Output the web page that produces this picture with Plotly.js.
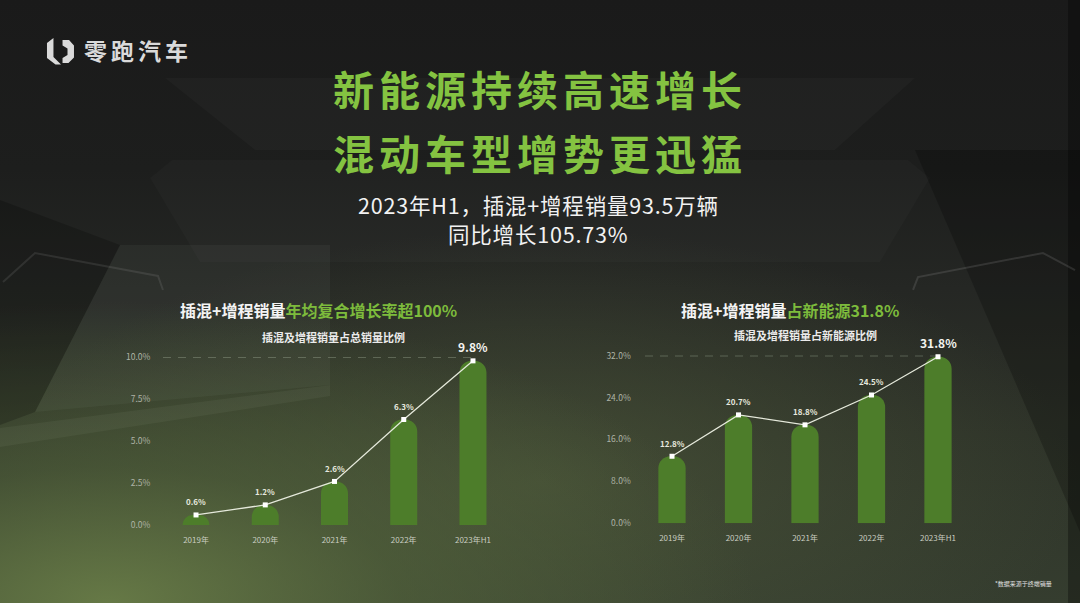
<!DOCTYPE html>
<html>
<head>
<meta charset="utf-8">
<script src="https://cdn.plot.ly/plotly-3.0.1.min.js"></script>
<style>
html,body{margin:0;padding:0;width:1080px;height:603px;overflow:hidden;background:#1c1d1c;}
#chart{
  width:1080px;height:603px;
  background:
    radial-gradient(ellipse 60% 50% at 10% 100%, rgba(106,126,72,0.92) 0%, rgba(84,102,60,0.58) 45%, rgba(60,70,45,0) 100%),
    radial-gradient(ellipse 50% 42% at 50% 80%, rgba(84,96,62,0.55) 0%, rgba(0,0,0,0) 100%),
    linear-gradient(180deg, #1a1a1a 0%, #1d1e1d 28%, #252724 48%, #2e3329 72%, #353d2f 100%);
}
</style>
</head>
<body>
<div id="chart"></div>
<script>
// ---- data ----
const categories = ['2019年', '2020年', '2021年', '2022年', '2023年H1'];
const shareOfTotal = [0.6, 1.2, 2.6, 6.3, 9.8];          // 插混及增程销量占总销量比例 (%)
const shareOfNEV = [12.8, 20.7, 18.8, 24.5, 31.8];       // 插混及增程销量占新能源比例 (%)
const leftTicks = [0, 2.5, 5, 7.5, 10];
const rightTicks = [0, 8, 16, 24, 32];

// ---- helpers (pixel -> paper) ----
const W = 1080, H = 603;
const px = x => x / W;
const py = y => 1 - y / H;
const poly = pts => 'M' + pts.map(p => px(p[0]).toFixed(4) + ',' + py(p[1]).toFixed(4)).join(' L') + ' Z';
const pline = pts => 'M' + pts.map(p => px(p[0]).toFixed(4) + ',' + py(p[1]).toFixed(4)).join(' L');

const FONT = 'Noto Sans CJK SC, Noto Sans, sans-serif';
const BAR = '#4d7d2a';
const LINE = '#e4e8da';
const GREEN = '#84c341';
const GREEN2 = '#7dbb3c';

const fmt = v => v.toFixed(1) + '%';

const traces = [
  {type: 'bar', x: categories, y: shareOfTotal, xaxis: 'x', yaxis: 'y', width: 0.39,
   marker: {color: BAR, cornerradius: '45%', line: {width: 0}}, hoverinfo: 'skip'},
  {type: 'scatter', mode: 'lines+markers', x: categories, y: shareOfTotal, xaxis: 'x', yaxis: 'y',
   line: {color: LINE, width: 1.3}, marker: {symbol: 'square', size: 5, color: '#ffffff'}, cliponaxis: false, hoverinfo: 'skip'},
  {type: 'bar', x: categories, y: shareOfNEV, xaxis: 'x2', yaxis: 'y2', width: 0.41,
   marker: {color: BAR, cornerradius: '45%', line: {width: 0}}, hoverinfo: 'skip'},
  {type: 'scatter', mode: 'lines+markers', x: categories, y: shareOfNEV, xaxis: 'x2', yaxis: 'y2',
   line: {color: LINE, width: 1.3}, marker: {symbol: 'square', size: 5, color: '#ffffff'}, cliponaxis: false, hoverinfo: 'skip'}
];

const axisX = (domain) => ({
  domain: domain, type: 'category', range: [-0.5, 4.5], showgrid: false, zeroline: false, showline: false,
  ticks: '', ticklabelstandoff: 9, tickfont: {family: FONT, size: 8, color: '#c9cdc1'}, fixedrange: true
});
const axisY = (domain, range, ticks, standoff) => ({
  domain: domain, range: range, tickmode: 'array', tickvals: ticks, ticktext: ticks.map(fmt),
  showgrid: false, zeroline: false, showline: false, ticks: '', ticklabelstandoff: standoff,
  tickfont: {family: FONT, size: 8.5, color: '#aeb3a6'}, fixedrange: true
});

const ann = [];
// value labels
function valueLabels(vals, xref, yref) {
  vals.forEach((v, i) => {
    const last = i === vals.length - 1;
    ann.push({x: categories[i], y: v, xref: xref, yref: yref, text: fmt(v), showarrow: false,
      yshift: last ? 14 : 13, font: {family: FONT, size: last ? 12 : 8, color: last ? '#f4f4f0' : '#e6e8df', weight: 700}});
  });
}
valueLabels(shareOfTotal, 'x', 'y');
valueLabels(shareOfNEV, 'x2', 'y2');

function txt(x, y, text, size, color, weight, xanchor, extra) {
  ann.push(Object.assign({x: px(x), y: py(y), xref: 'paper', yref: 'paper', text: text, showarrow: false,
    xanchor: xanchor || 'center', yanchor: 'middle', font: {family: FONT, size: size, color: color, weight: weight}}, extra || {}));
}
// titles
txt(540, 88, '<span style="letter-spacing:5px">新能源持续高速增长</span>', 41, GREEN, 700);
txt(540, 152, '<span style="letter-spacing:5px">混动车型增势更迅猛</span>', 41, GREEN, 700);
txt(538, 204, '<span style="letter-spacing:0.8px">2023年H1，插混+增程销量93.5万辆</span>', 21.5, '#f2f2f2', 400);
txt(538, 233, '<span style="letter-spacing:0.8px">同比增长105.73%</span>', 21.5, '#f2f2f2', 400);
// chart titles
txt(318, 310, '插混+增程销量<span style="color:' + GREEN2 + '">年均复合增长率超100%</span>', 16, '#f4f4f4', 700);
txt(333, 337, '插混及增程销量占总销量比例', 11, '#ebebeb', 700);
txt(790, 310, '插混+增程销量<span style="color:' + GREEN2 + '">占新能源31.8%</span>', 16, '#f4f4f4', 700);
txt(805, 335, '插混及增程销量占新能源比例', 11, '#ebebeb', 700);
// logo & footnote
txt(82, 50, '<span style="letter-spacing:4px">零跑汽车</span>', 23, '#dadada', 700, 'left');
txt(1054, 583, '*数据来源于终端销量', 6, '#e0e0e0', 400, 'right');

const shapes = [
  // tunnel background panels
  {type: 'path', path: poly([[165,78],[915,78],[835,150],[255,150]]), xref: 'paper', yref: 'paper', fillcolor: 'rgba(255,255,255,0.025)', line: {width: 0}, layer: 'below'},
  {type: 'path', path: poly([[150,178],[172,160],[908,160],[930,178],[880,262],[200,262]]), xref: 'paper', yref: 'paper', fillcolor: 'rgba(255,255,255,0.02)', line: {width: 0}, layer: 'below'},
  {type: 'path', path: poly([[0,200],[120,245],[35,412],[0,425]]), xref: 'paper', yref: 'paper', fillcolor: 'rgba(0,0,0,0.2)', line: {width: 0}, layer: 'below'},
  {type: 'path', path: poly([[120,245],[330,245],[330,385],[35,412]]), xref: 'paper', yref: 'paper', fillcolor: 'rgba(205,215,195,0.05)', line: {width: 0}, layer: 'below'},
  {type: 'path', path: poly([[0,428],[330,385],[330,396],[0,447]]), xref: 'paper', yref: 'paper', fillcolor: 'rgba(205,215,195,0.06)', line: {width: 0}, layer: 'below'},
  {type: 'path', path: poly([[915,150],[1080,150],[1080,532]]), xref: 'paper', yref: 'paper', fillcolor: 'rgba(0,0,0,0.22)', line: {width: 0}, layer: 'below'},
  {type: 'path', path: poly([[1068,0],[1080,0],[1080,603],[1068,603]]), xref: 'paper', yref: 'paper', fillcolor: 'rgba(0,0,0,0.3)', line: {width: 0}, layer: 'below'},
  {type: 'path', path: pline([[913,290],[918,277],[1043,253],[1075,270]]), xref: 'paper', yref: 'paper', line: {color: 'rgba(255,255,255,0.11)', width: 2}, layer: 'below'},
  {type: 'path', path: pline([[3,282],[35,253],[158,276],[163,290]]), xref: 'paper', yref: 'paper', line: {color: 'rgba(255,255,255,0.09)', width: 2}, layer: 'below'},
  // logo mark
  {type: 'path', path: poly([[47,43],[53.5,38],[53.5,57],[61,64.5],[55.5,64.5],[47,58]]), xref: 'paper', yref: 'paper', fillcolor: '#dadada', line: {width: 0}},
  {type: 'path', path: poly([[62.5,40],[69,40],[74,45.5],[74,57.5],[68.5,63],[62.5,63],[62.5,58],[67.5,55],[67.5,48.5],[62.5,45.5]]), xref: 'paper', yref: 'paper', fillcolor: '#dadada', line: {width: 0}},
  // dashed reference lines at the top tick
  {type: 'line', xref: 'x', yref: 'y', x0: -0.477, x1: 4, y0: leftTicks[leftTicks.length - 1], y1: leftTicks[leftTicks.length - 1],
   line: {color: 'rgba(190,205,180,0.6)', width: 1.2, dash: '8px,7px'}, layer: 'below'},
  {type: 'line', xref: 'x2', yref: 'y2', x0: -0.406, x1: 4, y0: rightTicks[rightTicks.length - 1], y1: rightTicks[rightTicks.length - 1],
   line: {color: 'rgba(190,205,180,0.6)', width: 1.2, dash: '8px,7px'}, layer: 'below'}
];

const layout = {
  width: W, height: H, margin: {l: 0, r: 0, t: 0, b: 0},
  paper_bgcolor: 'rgba(0,0,0,0)', plot_bgcolor: 'rgba(0,0,0,0)',
  showlegend: false, hovermode: false,
  xaxis: Object.assign(axisX([161.4 / W, 507.6 / W]), {anchor: 'y'}),
  yaxis: Object.assign(axisY([(H - 525) / H, (H - 357.5) / H], [0, 10], leftTicks, 10), {anchor: 'x'}),
  xaxis2: Object.assign(axisX([638.75 / W, 971.25 / W]), {anchor: 'y2'}),
  yaxis2: Object.assign(axisY([(H - 523.3) / H, (H - 355.7) / H], [0, 32], rightTicks, 7), {anchor: 'x2'}),
  annotations: ann,
  shapes: shapes,
  font: {family: FONT}
};

Plotly.newPlot('chart', traces, layout, {displayModeBar: false, staticPlot: true});
</script>
</body>
</html>
